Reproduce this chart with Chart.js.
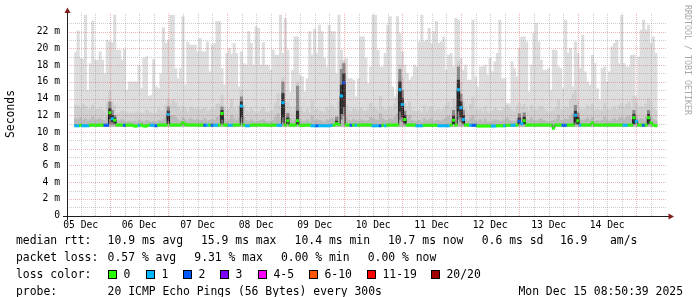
<!DOCTYPE html>
<html>
<head>
<meta charset="utf-8">
<script src="https://cdn.jsdelivr.net/npm/chart.js@4.4.1/dist/chart.umd.min.js"></script>
<style>
  html, body { margin: 0; padding: 0; background: #fff; }
  #wrap { width: 697px; height: 297px; position: relative; }
</style>
</head>
<body>
<div id="wrap"><canvas id="smokeChart"></canvas></div>
<script>
// hours since 05 Dec 00:00, one column per hour
const startHour = 9.48;
const spanHours = 240;
const dayLabels = ["05 Dec", "06 Dec", "07 Dec", "08 Dec", "09 Dec", "10 Dec", "11 Dec", "12 Dec", "13 Dec", "14 Dec"];

// slowest ping per hour (ms)
const maxPing = [
  19.5, 22.1, 18.8, 18.7, 24.0, 15.0, 18.2, 23.3, 18.6, 18.6,
  19.6, 18.6, 17.0, 21.0, 20.8, 20.7, 24.0, 19.8, 19.8, 18.6,
  19.9, 15.0, 16.0, 16.0, 16.0, 16.0, 18.0, 15.2, 18.8, 19.0,
  14.3, 14.4, 18.7, 15.4, 15.2, 17.0, 22.5, 20.6, 21.0, 24.0,
  24.0, 17.6, 16.4, 17.6, 23.8, 15.6, 20.8, 20.4, 20.4, 20.4,
  19.6, 21.2, 19.6, 19.6, 20.8, 17.2, 20.4, 20.6, 23.2, 23.2,
  17.6, 15.6, 19.4, 20.0, 19.3, 20.6, 19.4, 15.4, 19.6,
  18.2, 18.0, 22.0, 20.6, 18.0, 22.6, 22.4, 18.0, 20.7, 18.0,
  18.0, 17.4, 19.8, 19.2, 19.2, 24.0, 19.4, 23.6, 19.8, 14.8,
  17.4, 21.4, 21.4, 16.8, 16.6, 14.8, 16.4, 22.0, 19.2, 22.3,
  19.4, 22.8, 22.0, 18.8, 17.8, 22.8, 22.0, 22.0, 17.0, 24.0,
  19.8, 18.6, 18.8, 16.4, 16.4, 16.2, 14.2, 16.4, 21.4, 21.4,
  18.8, 15.8, 17.8, 24.0, 24.0, 19.8, 17.8, 17.8, 19.4, 22.8,
  23.8, 15.4, 14.2, 23.8, 21.8, 19.6, 18.0, 17.0, 16.2, 16.6,
  18.0, 17.8, 20.8, 24.0, 20.8, 21.0, 22.4, 20.6, 22.0, 23.2,
  20.6, 20.8, 21.4, 17.4, 19.2, 19.4, 17.8, 23.6, 23.4, 18.8,
  17.4, 18.0, 16.2, 16.2, 23.4, 16.6,
  15.4, 17.8, 17.8, 18.0, 16.8, 18.8, 17.2, 18.4, 19.4, 23.4,
  16.4, 16.4, 13.4, 13.4, 18.4, 17.6, 16.6, 20.0, 21.4, 21.4,
  20.8, 14.8, 18.0, 21.8, 23.0, 20.8, 18.6, 17.4, 17.4, 17.6,
  15.0, 19.8, 19.8, 17.8, 17.6, 15.2, 23.4, 19.4, 20.0, 15.4,
  20.8, 19.4, 17.6, 21.6, 17.2, 16.0, 15.6, 19.2, 18.2, 15.2,
  13.8, 17.6, 17.8, 16.0, 17.2, 20.2, 20.6, 21.0, 18.2, 24.0,
  18.2, 17.8, 17.8, 19.2, 19.2, 14.2, 19.0, 22.2, 23.4, 22.2,
  22.8, 20.6, 21.4, 19.4
];

// top of the denser smoke band
const smokeMid = [
  13.2, 13.1, 12.9, 13.3, 13.0, 12.6, 12.8, 13.2, 12.5, 12.7,
  12.9, 12.6, 12.4, 13.5, 14.8, 13.6, 13.2, 12.3, 12.3, 12.6,
  12.4, 12.3, 12.2, 12.3, 12.2, 12.4, 12.3, 12.3, 12.2, 12.6,
  12.4, 12.3, 12.2, 12.3, 12.7, 12.5, 12.6, 13.2, 13.9, 13.4,
  13.8, 13.5, 13.0, 12.6, 13.0, 12.8, 12.4, 12.9, 12.9, 12.7,
  12.8, 12.6, 12.7, 12.9, 12.5, 12.6, 12.8, 12.7, 13.3, 13.4,
  14.4, 13.0, 12.6, 12.8, 13.9, 12.9, 12.6, 13.1, 15.0, 13.2,
  12.6, 12.4, 12.8, 12.5, 12.3, 12.4, 12.6, 12.9, 12.4, 12.3,
  12.5, 12.6, 13.5, 14.6, 13.0, 16.5, 13.1, 13.6, 13.0, 12.5,
  13.0, 16.0, 12.8, 12.5, 12.4, 12.8, 12.3, 13.8, 12.6, 12.8,
  12.6, 12.5, 12.3, 12.9, 12.6, 13.2, 12.8, 12.6, 13.6, 18.5,
  18.4, 13.2, 12.6, 12.5, 12.8, 12.7, 12.4, 12.9, 12.6, 12.5,
  12.7, 13.5, 13.0, 12.8, 12.6, 14.3, 12.9, 12.6, 12.7, 13.0,
  12.8, 13.4, 14.5, 18.0, 16.5, 13.4, 12.8, 13.6, 12.6, 12.5,
  12.4, 12.6, 12.3, 13.1, 12.4, 12.8, 13.0, 12.5, 12.6, 12.7,
  12.5, 12.8, 13.2, 13.6, 12.9, 14.0, 13.2, 18.5, 16.0, 13.6,
  12.8, 12.5, 13.3, 14.2, 12.7, 12.6, 12.8, 12.4, 13.0, 12.4,
  12.3, 12.5, 12.9, 12.6, 12.5, 12.6, 12.9, 13.2, 12.8, 12.6,
  12.4, 13.0, 13.4, 13.0, 13.3, 12.9, 12.6, 13.2, 12.7, 12.6,
  12.9, 13.1, 12.8, 12.5, 12.3, 12.4, 12.6, 12.9, 13.8, 12.7,
  12.6, 13.0, 12.8, 13.9, 14.5, 15.0, 13.6, 12.8, 12.6, 12.8,
  13.2, 12.9, 13.3, 12.6, 12.7, 12.5, 12.6, 13.4, 12.7, 12.6,
  12.8, 13.0, 12.7, 13.2, 13.4, 12.9, 13.3, 13.6, 12.8, 14.3,
  13.4, 12.8, 13.0, 12.9, 13.3, 14.0, 13.6, 12.8, 12.5
];

// top of the darker smoke close to the median
const smokeLow = [
  11.6, 11.5, 11.7, 11.4, 11.6, 11.3, 11.5, 11.8, 11.4, 11.5,
  11.6, 11.4, 11.3, 11.8, 12.9, 12.2, 11.9, 11.4, 11.3, 11.5,
  11.3, 11.2, 11.3, 11.2, 11.3, 11.2, 11.4, 11.3, 11.2, 11.4,
  11.3, 11.2, 11.3, 11.2, 11.4, 11.3, 11.5, 11.8, 12.6, 11.9,
  12.0, 11.8, 11.5, 11.3, 11.7, 11.5, 11.3, 11.6, 11.5, 11.4,
  11.5, 11.4, 11.4, 11.6, 11.3, 11.4, 11.5, 11.4, 11.8, 11.9,
  12.8, 11.6, 11.3, 11.5, 12.0, 11.6, 11.4, 11.7, 13.6, 11.8,
  11.4, 11.3, 11.5, 11.3, 11.2, 11.3, 11.4, 11.5, 11.3, 11.2,
  11.3, 11.4, 11.8, 12.2, 11.6, 14.8, 11.7, 12.3, 11.6, 11.3,
  11.6, 12.6, 11.5, 11.3, 11.3, 11.5, 11.2, 11.9, 11.4, 11.5,
  11.4, 11.3, 11.2, 11.5, 11.4, 11.7, 11.5, 11.6, 11.9, 16.5,
  17.2, 11.8, 11.4, 11.3, 11.5, 11.4, 11.3, 11.5, 11.4, 11.3,
  11.4, 11.8, 11.6, 11.5, 11.4, 12.2, 11.6, 11.4, 11.4, 11.6,
  11.5, 11.8, 12.2, 16.5, 14.8, 12.2, 11.6, 12.0, 11.4, 11.3,
  11.3, 11.4, 11.2, 11.6, 11.3, 11.5, 11.6, 11.3, 11.4, 11.4,
  11.3, 11.5, 11.7, 11.9, 11.6, 12.3, 11.8, 16.8, 14.6, 12.3,
  11.5, 11.3, 11.7, 12.0, 11.4, 11.3, 11.5, 11.2, 11.6, 11.2,
  11.2, 11.3, 11.5, 11.4, 11.3, 11.3, 11.5, 11.7, 11.4, 11.3,
  11.3, 11.6, 12.0, 11.6, 12.0, 11.5, 11.4, 11.7, 11.4, 11.3,
  11.5, 11.6, 11.4, 11.3, 11.2, 11.3, 11.4, 11.5, 12.0, 11.4,
  11.4, 11.6, 11.5, 11.9, 12.2, 12.6, 11.9, 11.5, 11.4, 11.5,
  11.7, 11.5, 11.8, 11.3, 11.4, 11.3, 11.4, 11.8, 11.4, 11.3,
  11.5, 11.6, 11.4, 11.7, 11.8, 11.5, 11.8, 11.9, 11.5, 12.3,
  11.9, 11.5, 11.6, 11.5, 11.8, 12.3, 11.9, 11.5, 11.3
];

// median rtt per hour (ms)
const median = [
  10.75, 10.75, 10.8, 10.75, 10.75, 10.75, 10.85, 10.85, 10.8, 10.8,
  10.85, 10.85, 10.8, 10.8, 12.3, 11.6, 11.4, 10.85, 10.85, 10.85,
  10.8, 10.85, 10.85, 10.85, 10.72, 10.72, 10.8, 10.85, 10.72, 10.72,
  10.85, 10.8, 10.8, 10.75, 10.85, 10.85, 10.85, 10.85, 12.1, 10.85,
  10.85, 10.85, 10.85, 10.85, 11.1, 10.9, 10.85, 10.85, 10.85, 10.85,
  10.85, 10.85, 10.85, 10.8, 10.8, 10.85, 10.8, 10.8, 10.8, 10.85,
  12.2, 10.85, 10.85, 10.8, 10.8, 10.85, 10.85, 10.85, 13.1, 10.85,
  10.75, 10.75, 10.85, 10.85, 10.85, 10.85, 10.85, 10.85, 10.85, 10.8,
  10.8, 10.85, 10.85, 10.8, 10.8, 13.5, 10.85, 11.35, 10.85, 10.85,
  10.85, 11.35, 10.85, 10.8, 10.8, 10.85, 10.85, 10.75, 10.75, 10.75,
  10.75, 10.75, 10.75, 10.75, 10.75, 10.8, 10.85, 11.0, 10.9, 14.3,
  15.9, 10.85, 10.85, 10.8, 10.85, 10.8, 10.85, 10.85, 10.85, 10.85,
  10.85, 10.85, 10.75, 10.75, 10.75, 10.75, 10.8, 10.75, 10.85, 10.85,
  10.85, 10.85, 10.85, 15.05, 13.3, 11.5, 10.85, 10.85, 10.85, 10.85,
  10.75, 10.75, 10.75, 10.8, 10.8, 10.8, 10.8, 10.8, 10.8, 10.75,
  10.75, 10.75, 10.75, 10.75, 10.85, 11.4, 10.85, 15.05, 12.9, 11.5,
  10.85, 10.85, 10.8, 10.8, 10.8, 10.72, 10.72, 10.72, 10.72, 10.72,
  10.72, 10.72, 10.72, 10.75, 10.75, 10.75, 10.75, 10.8, 10.8, 10.8,
  10.8, 10.85, 11.3, 11.0, 11.35, 10.85, 10.85, 10.85, 10.85, 10.85,
  10.85, 10.85, 10.85, 10.85, 10.85, 10.85, 10.45, 10.85, 10.85, 10.85,
  10.8, 10.8, 10.85, 10.85, 10.85, 12.0, 11.35, 10.85, 10.85, 10.85,
  10.85, 10.85, 11.1, 10.85, 10.85, 10.85, 10.85, 10.85, 10.85, 10.85,
  10.85, 10.85, 10.85, 10.85, 10.85, 10.8, 10.8, 10.85, 10.85, 11.7,
  11.3, 10.85, 10.85, 10.8, 10.85, 11.7, 11.1, 10.85, 10.75
];

// lost pings per hour, as index into lossColors
const lossIdx = [
  1, 1, 0, 1, 1, 1, 0, 0, 0, 0,
  0, 0, 2, 2, 0, 1, 0, 0, 0, 0,
  2, 0, 0, 0, 0, 0, 1, 0, 0, 0,
  0, 1, 1, 2, 0, 0, 0, 0, 1, 0,
  0, 0, 0, 0, 0, 0, 0, 0, 0, 0,
  0, 0, 0, 2, 1, 0, 2, 1, 1, 0,
  0, 0, 0, 1, 1, 0, 0, 0, 1, 0,
  1, 1, 0, 0, 0, 0, 0, 0, 0, 0,
  0, 0, 0, 1, 1, 1, 0, 0, 0, 0,
  0, 0, 0, 0, 0, 0, 0, 1, 1, 2,
  1, 1, 1, 1, 1, 1, 0, 0, 0, 1,
  2, 0, 0, 2, 0, 1, 0, 0, 0, 0,
  0, 0, 1, 1, 1, 2, 0, 1, 0, 0,
  0, 0, 0, 1, 1, 0, 0, 0, 0, 0,
  1, 1, 1, 0, 0, 0, 0, 0, 0, 1,
  1, 1, 1, 1, 0, 0, 0, 1, 1, 1,
  0, 0, 1, 2, 2, 0, 0, 0, 0, 0,
  0, 1, 1, 0, 0, 0, 1, 0, 0, 1,
  1, 0, 2, 1, 0, 0, 0, 0, 0, 0,
  0, 0, 0, 0, 0, 0, 0, 0, 0, 0,
  2, 2, 0, 0, 0, 1, 0, 1, 0, 0,
  0, 0, 0, 0, 0, 0, 0, 0, 0, 0,
  0, 0, 0, 0, 0, 1, 1, 0, 0, 0,
  1, 0, 0, 2, 0, 0, 0, 0, 0
];

// hours where the whole ping burst moved up (dark smoke)
const spikeIdx = [14, 15, 16, 38, 60, 68, 85, 87, 91, 107, 109, 110, 133, 134, 135, 155, 157, 158, 159, 182, 184, 205, 206, 229, 235];
const spikeOuterLo = [11.0, 10.9, 10.9, 11.0, 11.0, 11.2, 11.2, 10.9, 10.9, 10.9, 11.5, 12.0, 11.5, 11.2, 10.9, 10.9, 11.5, 11.2, 10.9, 10.9, 10.9, 10.9, 10.9, 10.9, 10.9];
const spikeOuterHi = [13.6, 12.6, 12.0, 13.0, 13.0, 14.2, 16.0, 12.2, 15.5, 11.8, 17.5, 18.2, 17.5, 15.0, 12.5, 12.6, 17.8, 14.5, 12.6, 12.2, 12.3, 13.2, 12.3, 12.6, 12.6];
const spikeInnerLo = [11.6, 11.2, 11.1, 11.4, 11.5, 11.8, 11.8, 11.1, 11.0, 10.9, 12.2, 13.0, 12.5, 11.8, 11.1, 11.0, 12.5, 11.8, 11.1, 11.0, 11.0, 11.2, 11.0, 11.0, 11.0];
const spikeInnerHi = [12.8, 12.0, 11.7, 12.5, 12.6, 13.6, 14.6, 11.7, 12.5, 11.3, 15.6, 17.0, 16.0, 14.0, 12.0, 11.9, 16.2, 13.6, 12.0, 11.7, 11.8, 12.5, 11.8, 12.1, 12.1];

const minPing = 10.65;
const yTickValues = [0, 1, 2, 3, 4, 5, 6, 7, 8, 9, 10, 11, 12, 13, 14, 15, 16, 17, 18, 19, 20, 21, 22, 23];

const lossColors = ["#26ff00", "#00b8ff", "#0059ff", "#7e00ff", "#ff00ff", "#ff5500", "#ff0000", "#a00000"];
const lossLabels = ["0", "1", "2", "3", "4-5", "6-10", "11-19", "20/20"];
const rttStats = ["10.9 ms avg", "15.9 ms max", "10.4 ms min", "10.7 ms now", "0.6 ms sd", "16.9", "am/s"];
const lossStats = ["0.57 % avg", "9.31 % max", "0.00 % min", "0.00 % now"];
const probeText = "20 ICMP Echo Pings (56 Bytes) every 300s";
const stampText = "Mon Dec 15 08:50:39 2025";

const hours = maxPing.map((v, i) => startHour + i + 0.5);
const xTickValues = [];
for (let h = 12; h < startHour + spanHours; h += 6) xTickValues.push(h);

const MONO = '"DejaVu Sans Mono", "Liberation Mono", monospace';
const MAJOR = "rgba(222, 79, 79, 0.42)";
const MINOR = "rgba(143, 143, 143, 0.45)";
const AXIS = "rgb(31, 31, 31)";
const ARROW = "rgb(128, 31, 31)";

function smokeBars(lo, hi, color, order) {
    return {
        type: "bar",
        data: hours.map((h, i) => ({ x: h, y: [lo, hi[i]] })),
        backgroundColor: color,
        grouped: false,
        barPercentage: 1,
        categoryPercentage: 1,
        order: order,
    };
}

function spikeBars(lo, hi, color, order) {
    return {
        type: "bar",
        data: spikeIdx.map((k, j) => ({ x: hours[k], y: [lo[j], hi[j]] })),
        backgroundColor: color,
        grouped: false,
        barPercentage: 1,
        categoryPercentage: 1,
        order: order,
    };
}

// dotted grid on top of the smoke, like rrdtool does
const gridOverlay = {
    id: "gridOverlay",
    afterDatasetsDraw(chart) {
        const c = chart.ctx;
        const a = chart.chartArea;
        const xs = chart.scales.x;
        const ys = chart.scales.y;
        c.save();
        c.lineWidth = 1;
        c.setLineDash([1, 1]);
        xTickValues.forEach((v) => {
            const px = Math.round(xs.getPixelForValue(v)) + 0.5;
            c.strokeStyle = v % 24 === 0 ? MAJOR : MINOR;
            c.beginPath();
            c.moveTo(px, Math.round(a.bottom));
            c.lineTo(px, a.top);
            c.stroke();
        });
        yTickValues.forEach((v) => {
            if (v === 0) return;
            const py = Math.round(ys.getPixelForValue(v)) + 0.5;
            c.strokeStyle = v % 2 === 0 ? MAJOR : MINOR;
            c.beginPath();
            c.moveTo(a.left, py);
            c.lineTo(a.right, py);
            c.stroke();
        });
        c.restore();
    },
};

const decorations = {
    id: "decorations",
    afterDraw(chart) {
        const c = chart.ctx;
        const a = chart.chartArea;
        const ax = Math.round(a.left) + 0.5;
        const ay = Math.round(a.bottom) + 0.5;
        c.save();

        // axes and arrows
        c.strokeStyle = AXIS;
        c.lineWidth = 1;
        c.beginPath();
        c.moveTo(a.left - 4, ay);
        c.lineTo(a.right + 3, ay);
        c.moveTo(ax, Math.round(a.bottom) + 4);
        c.lineTo(ax, 12);
        c.stroke();
        c.fillStyle = ARROW;
        c.beginPath();
        c.moveTo(ax, 7.5);
        c.lineTo(ax + 3, 13);
        c.lineTo(ax - 3, 13);
        c.closePath();
        c.fill();
        c.beginPath();
        c.moveTo(a.right + 7, ay);
        c.lineTo(a.right + 1.5, ay - 3);
        c.lineTo(a.right + 1.5, ay + 3);
        c.closePath();
        c.fill();

        // unit label
        c.fillStyle = "#000";
        c.font = "11.4px " + MONO;
        c.textAlign = "center";
        c.textBaseline = "middle";
        c.save();
        c.translate(11, 114);
        c.rotate(-Math.PI / 2);
        c.fillText("Seconds", 0, 0);
        c.restore();

        // watermark
        c.save();
        c.fillStyle = "#a8a8a8";
        c.font = "8.3px " + MONO;
        c.textAlign = "left";
        c.translate(687, 5);
        c.rotate(Math.PI / 2);
        c.fillText("RRDTOOL / TOBI OETIKER", 0, 0);
        c.restore();

        // legend rows
        c.font = "11.4px " + MONO;
        c.textAlign = "left";
        c.fillStyle = "#000";
        const rows = [241, 258, 275, 292];
        c.fillText("median rtt:", 16, rows[0]);
        [107.6, 201, 294.6, 388, 481.7, 560, 610].forEach((x, i) => c.fillText(rttStats[i], x, rows[0]));
        c.fillText("packet loss:", 16, rows[1]);
        [107.6, 194.3, 281, 367.7].forEach((x, i) => c.fillText(lossStats[i], x, rows[1]));
        c.fillText("loss color:", 16, rows[2]);
        [108, 146, 183, 220, 258, 309, 367, 431].forEach((x, i) => {
            c.fillStyle = lossColors[i];
            c.fillRect(x, rows[2] - 4, 8, 8);
            c.strokeStyle = "#000";
            c.strokeRect(x + 0.5, rows[2] - 4.5, 8, 8);
            c.fillStyle = "#000";
            c.fillText(lossLabels[i], x + 15.5, rows[2]);
        });
        c.fillText("probe:", 16, rows[3]);
        c.fillText(probeText, 107.6, rows[3]);
        c.textAlign = "right";
        c.fillText(stampText, 683, rows[3]);
        c.restore();
    },
};

const chart = new Chart(document.getElementById("smokeChart"), {
    type: "bar",
    data: {
        datasets: [
            {
                type: "bar",
                data: hours.map((h, i) => ({ x: h, y: [median[i] - 0.14, median[i] + 0.14] })),
                backgroundColor: lossIdx.map((k) => lossColors[k]),
                grouped: false,
                barPercentage: 1,
                categoryPercentage: 1,
                order: 0,
            },
            {
                type: "line",
                data: hours.map((h, i) => ({ x: h, y: median[i] })),
                borderColor: "#1a1a1a",
                borderWidth: 1,
                pointRadius: 0,
                stepped: "middle",
                order: 1,
            },
            spikeBars(spikeInnerLo, spikeInnerHi, "#343434", 2),
            spikeBars(spikeOuterLo, spikeOuterHi, "#8a8a8a", 3),
            smokeBars(minPing, smokeLow, "#bababa", 4),
            smokeBars(minPing, smokeMid, "#cfcfcf", 5),
            smokeBars(minPing, maxPing, "#dddddd", 6),
        ],
    },
    options: {
        responsive: true,
        maintainAspectRatio: false,
        animation: false,
        events: [],
        layout: { padding: { top: 13.3, right: 30, bottom: 0, left: 0 } },
        plugins: { legend: { display: false }, tooltip: { enabled: false } },
        scales: {
            x: {
                type: "linear",
                min: startHour,
                max: startHour + spanHours,
                afterBuildTicks: (axis) => {
                    axis.ticks = xTickValues.map((v) => ({ value: v }));
                },
                afterFit: (axis) => {
                    axis.height = 81.4;
                },
                ticks: {
                    autoSkip: false,
                    maxRotation: 0,
                    padding: 4,
                    color: "#000",
                    font: { family: MONO, size: 9.7 },
                    callback: (v) => (v % 24 === 12 ? dayLabels[(v - 12) / 24] : ""),
                },
                grid: { display: false, drawTicks: false },
                border: { display: false },
            },
            y: {
                min: 0,
                max: 24.2,
                afterBuildTicks: (axis) => {
                    axis.ticks = yTickValues.map((v) => ({ value: v }));
                },
                afterFit: (axis) => {
                    axis.width = 67;
                },
                ticks: {
                    autoSkip: false,
                    padding: 7,
                    color: "#000",
                    font: { family: MONO, size: 9.7 },
                    callback: (v) => (v % 2 ? "" : v === 0 ? "0" : v + " m"),
                },
                grid: { display: false, drawTicks: false },
                border: { display: false },
            },
        },
    },
    plugins: [gridOverlay, decorations],
});
</script>
</body>
</html>
